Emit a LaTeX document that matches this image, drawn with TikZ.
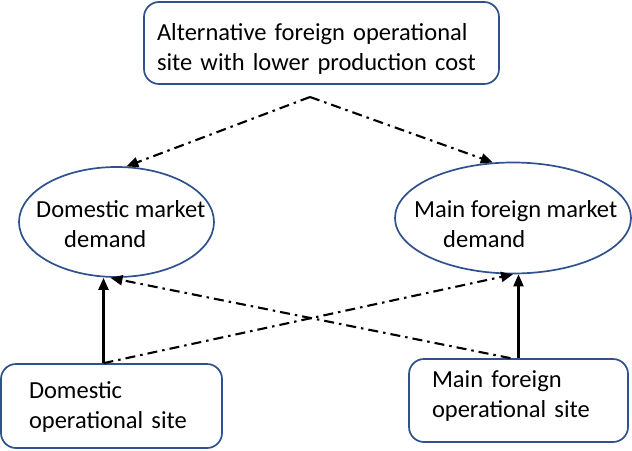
\documentclass[tikz,border=0pt]{standalone}
\usepackage{fontspec}
\setmainfont{Carlito}
\usetikzlibrary{arrows.meta,shapes.geometric}
\definecolor{edgeblue}{RGB}{47,82,143}
\begin{document}
\begin{tikzpicture}[x=1pt, y=-1pt, font=\fontsize{24.5}{30}\selectfont]
    \tikzset{
      site/.style={draw=edgeblue, line width=1.7pt, rounded corners=15pt,
                   align=left, inner ysep=0pt, text height=20pt},
      mkt/.style={draw=edgeblue, line width=1.7pt, ellipse, inner sep=0pt},
      lbl/.style={anchor=base west, align=left, inner sep=0pt},
      flow/.style={line width=2.1pt, -{Triangle[length=12pt,width=10pt]}},
      alt/.style={flow, dash pattern=on 10pt off 5pt on 2.5pt off 5pt},
    }
    \useasboundingbox (0,0) rectangle (632,450);

    \node[site, minimum width=355, minimum height=82, inner xsep=13pt,
          text width=329, text depth=26pt] (alt) at (321.5,43)
          {Alternative foreign operational\\site with lower production cost};
    \node[mkt, minimum width=195, minimum height=110] (dom) at (116.5,222) {};
    \node[mkt, minimum width=236, minimum height=111] (fmd) at (513,218) {};
    \node[lbl] (domtxt) at (36,247) {Domestic market\\\hspace*{28pt}demand};
    \node[lbl] (fmdtxt) at (414,247) {Main foreign market\\\hspace*{29pt}demand};
    \node[site, minimum width=221, minimum height=84, inner xsep=28pt,
          text width=165, text depth=36pt] (dsite) at (111.5,406)
          {Domestic\\operational site};
    \node[site, minimum width=219, minimum height=83, inner xsep=23pt,
          text width=173, text depth=47pt] (fsite) at (518.5,400.5)
          {Main foreign\\operational site};

    \coordinate (split) at (310,97);
    \coordinate (dfoot) at ([xshift=-8pt]dsite.north);
    \coordinate (ffoot) at ([xshift=-8pt]fsite.north);

    \draw[alt] (split) -- (dom.80);
    \draw[alt] (split) -- (fmd.110);
    \draw[flow] (dfoot) -- (dfoot |- dom.south);
    \draw[flow] (fsite.north) -- (fsite.north |- fmd.south);
    \draw[alt] (dfoot) -- (fmd.south);
    \draw[alt] (ffoot) -- ([xshift=-6pt]dom.south);
  \end{tikzpicture}
\end{document}
